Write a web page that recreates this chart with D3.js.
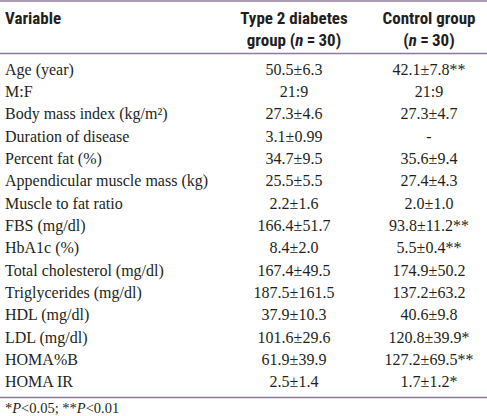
<!DOCTYPE html>
<html>
<head>
<meta charset="utf-8">
<script src="https://cdn.jsdelivr.net/npm/d3@7"></script>
<style>
  html, body { margin: 0; padding: 0; background: #fff; }
  svg { display: block; }
</style>
</head>
<body>
<script>
// ---- data ----
const headerVariable = ["Variable"];
const headerType2 = ["Type 2 diabetes", "group (n=30)"];
const headerControl = ["Control group", "(n=30)"];
const variables = [
  "Age (year)", "M:F", "Body mass index (kg/m²)", "Duration of disease",
  "Percent fat (%)", "Appendicular muscle mass (kg)", "Muscle to fat ratio",
  "FBS (mg/dl)", "HbA1c (%)", "Total cholesterol (mg/dl)", "Triglycerides (mg/dl)",
  "HDL (mg/dl)", "LDL (mg/dl)", "HOMA%B", "HOMA IR"
];
const type2Values = [
  "50.5±6.3", "21:9", "27.3±4.6", "3.1±0.99", "34.7±9.5", "25.5±5.5", "2.2±1.6",
  "166.4±51.7", "8.4±2.0", "167.4±49.5", "187.5±161.5", "37.9±10.3", "101.6±29.6",
  "61.9±39.9", "2.5±1.4"
];
const controlValues = [
  "42.1±7.8**", "21:9", "27.3±4.7", "-", "35.6±9.4", "27.4±4.3", "2.0±1.0",
  "93.8±11.2**", "5.5±0.4**", "174.9±50.2", "137.2±63.2", "40.6±9.8", "120.8±39.9*",
  "127.2±69.5**", "1.7±1.2*"
];
const footnote = "*P<0.05; **P<0.01";

// ---- layout ----
const W = 487, H = 416;
const ruleColor = "#8c7a9a";
const textColor = "#231f20";
const bodyFont = "'Liberation Serif', 'Times New Roman', serif";
const headFont = "'Liberation Sans Narrow', 'Roboto Condensed', Roboto, sans-serif";

const svg = d3.select("body").append("svg").attr("width", W).attr("height", H);

const cols = ["variable", "type2", "control"];
const x = d3.scaleOrdinal().domain(cols).range([5, 294, 429]);
const anchor = {variable: "start", type2: "middle", control: "middle"};
const y = d3.scaleBand().domain(variables).range([58, 393]).paddingInner(0).paddingOuter(0);

// rules
const rules = [1, 53.5, 397.5];
svg.selectAll("line.rule").data(rules).join("line")
  .attr("class", "rule")
  .attr("x1", 0).attr("x2", W)
  .attr("y1", d => d).attr("y2", d => d)
  .attr("stroke", ruleColor).attr("stroke-width", 1.6);

// header
function italicN(sel, str) {
  const m = str.match(/^(.*\()n=(\d+)(\).*)$/);
  if (!m) { sel.append("tspan").text(str); return; }
  sel.append("tspan").text(m[1]);
  sel.append("tspan").attr("font-style", "italic").text("n");
  sel.append("tspan").text("\u2009=\u2009" + m[2] + m[3]);
}
const headers = [
  {col: "variable", lines: headerVariable},
  {col: "type2", lines: headerType2},
  {col: "control", lines: headerControl}
];
const hy = d3.scaleOrdinal().domain([0, 1]).range([24, 46]);
headers.forEach(h => {
  h.lines.forEach((ln, i) => {
    const t = svg.append("text")
      .attr("x", x(h.col)).attr("y", hy(i))
      .attr("text-anchor", anchor[h.col])
      .attr("font-family", headFont).attr("font-weight", "bold")
      .attr("font-size", 17).attr("fill", textColor);
    italicN(t, ln);
  });
});

// body rows
const rows = variables.map((v, i) => ({variable: v, type2: type2Values[i], control: controlValues[i]}));
const g = svg.append("g");
cols.forEach(c => {
  g.selectAll("text." + c).data(rows).join("text")
    .attr("class", c)
    .attr("x", x(c))
    .attr("y", d => y(d.variable) + y.bandwidth() / 2 + 5.5)
    .attr("text-anchor", anchor[c])
    .attr("font-family", bodyFont).attr("font-size", 16)
    .attr("fill", textColor)
    .text(d => d[c]);
});

// footnote
const fn = svg.append("text").attr("x", 5).attr("y", 413)
  .attr("font-family", bodyFont).attr("font-size", 14.5).attr("fill", textColor);
footnote.split(/(P)/).forEach(part => {
  if (part === "P") fn.append("tspan").attr("font-style", "italic").text("P");
  else if (part) fn.append("tspan").text(part);
});
</script>
</body>
</html>
